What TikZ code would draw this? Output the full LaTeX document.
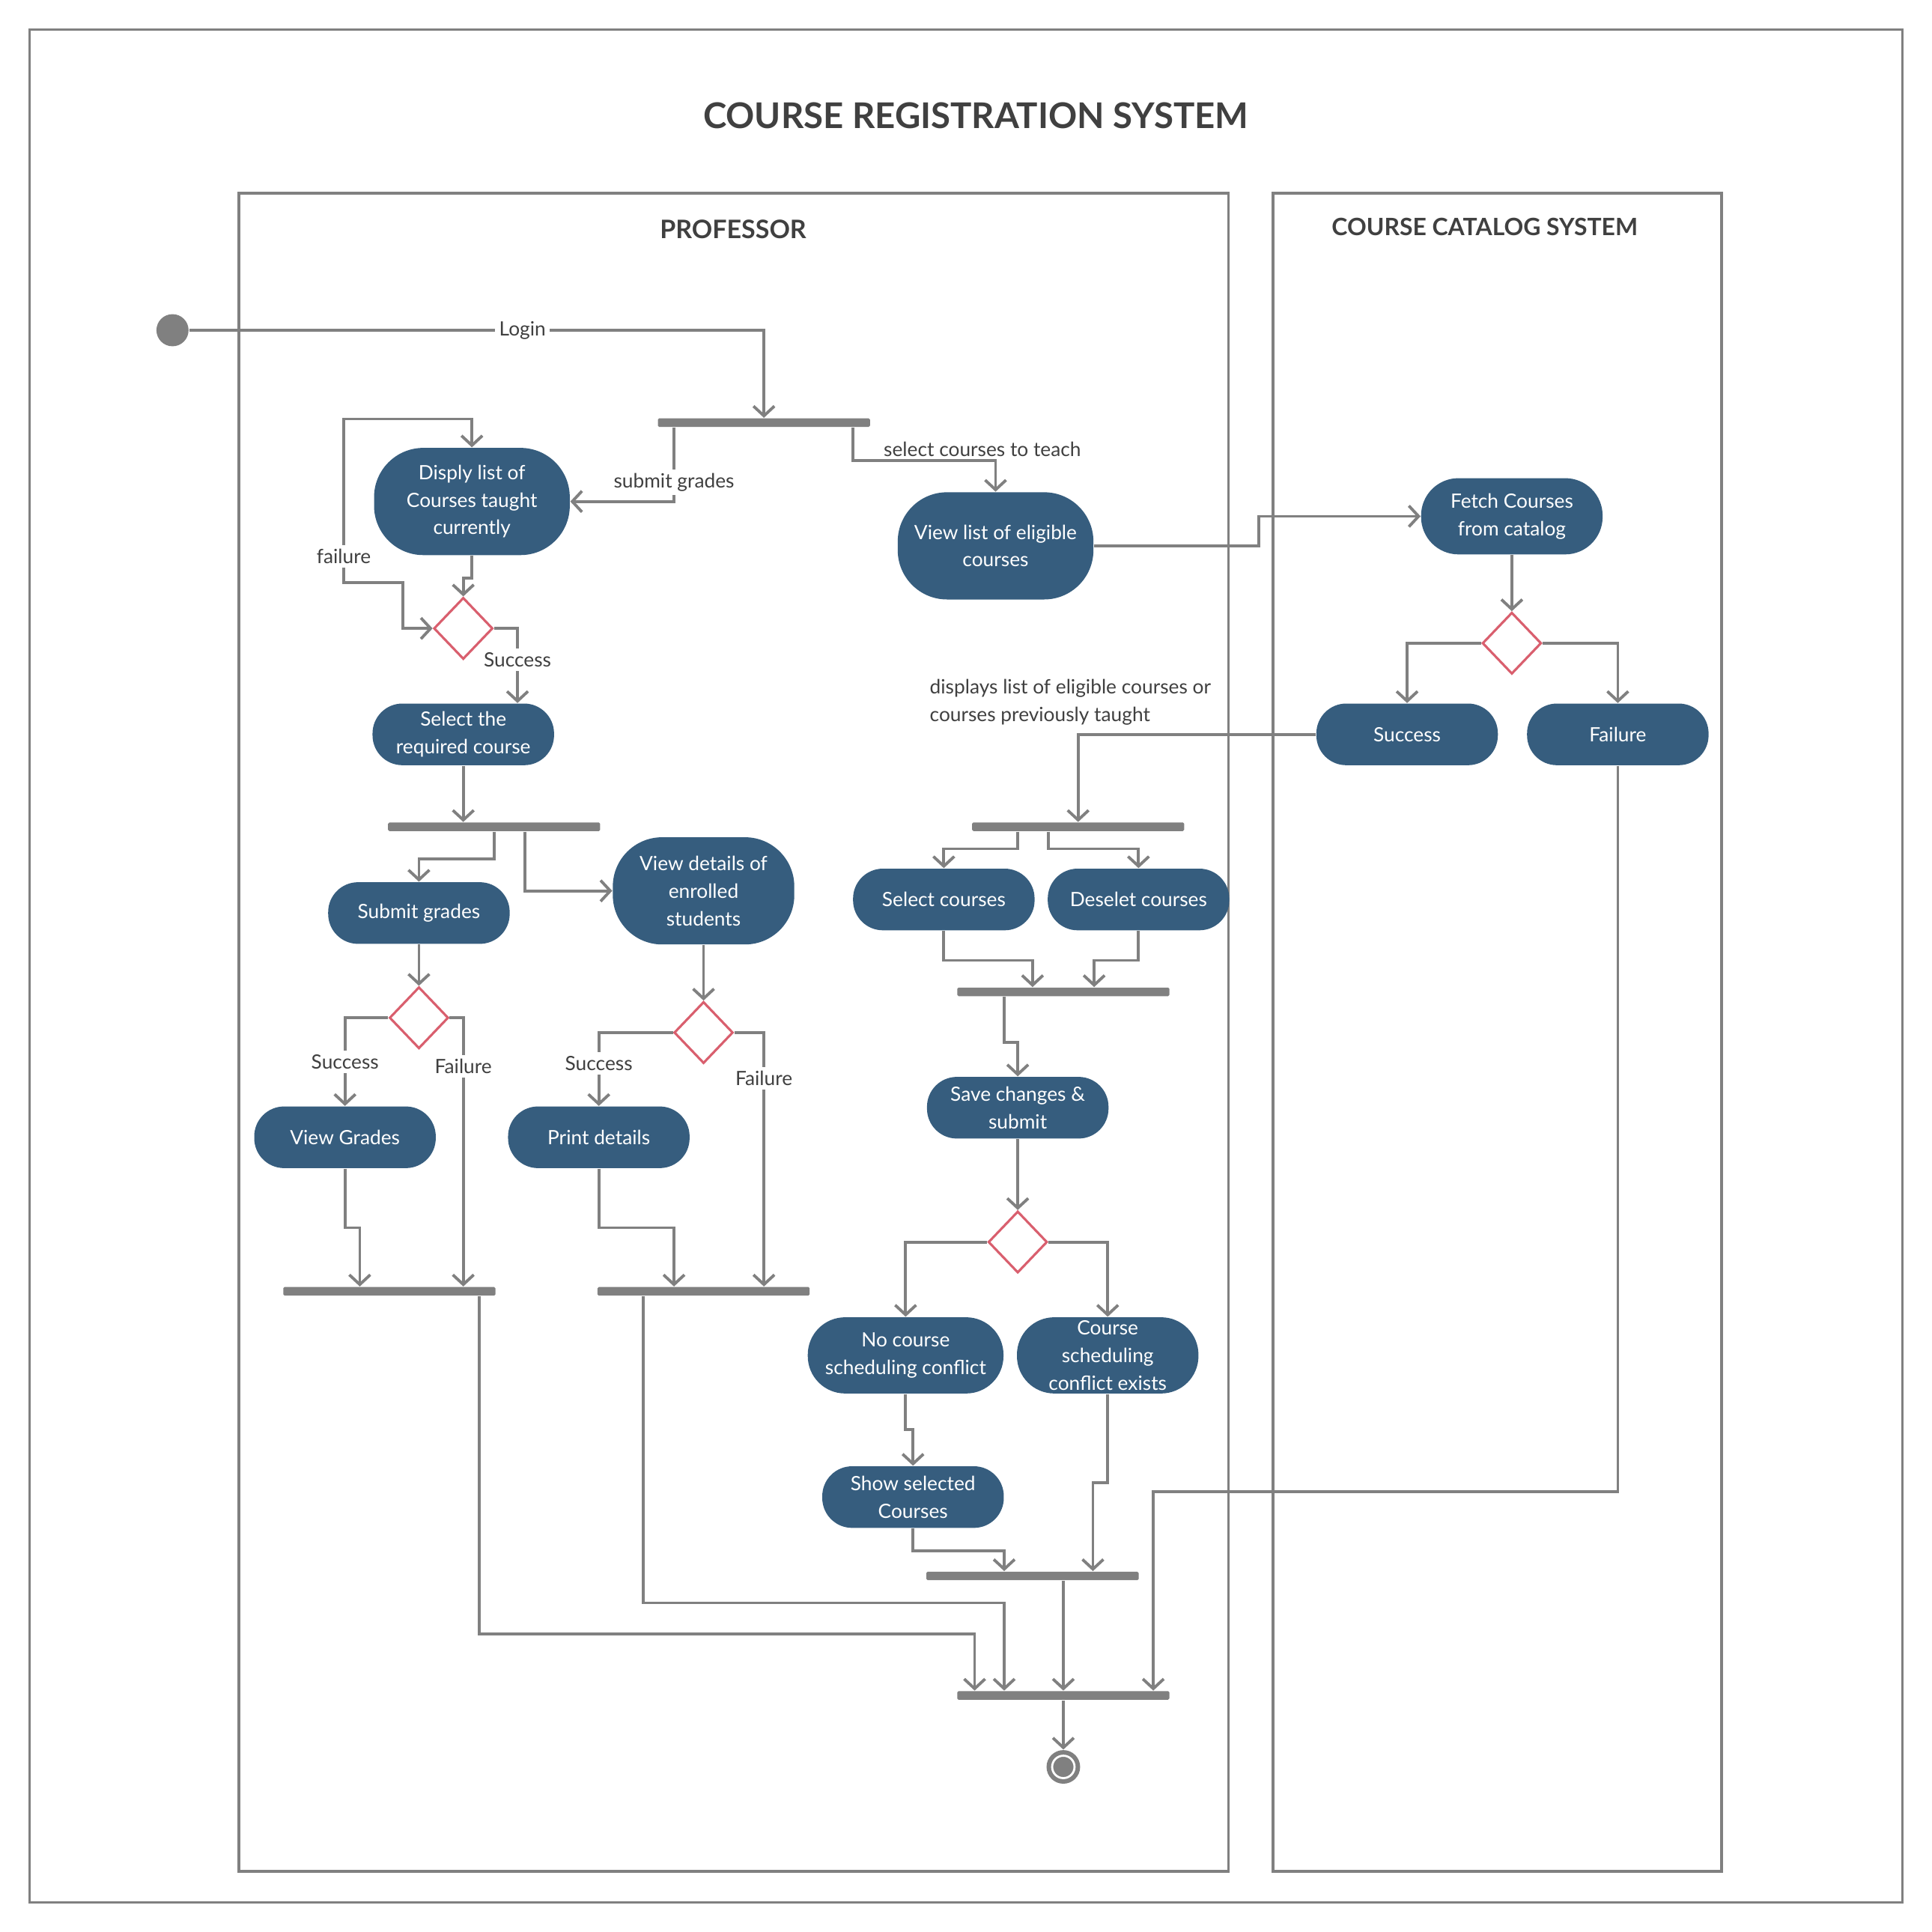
\documentclass[tikz,border=0pt]{standalone}
\usepackage{fontspec}
\setmainfont{Lato}
\usetikzlibrary{shapes.geometric,arrows.meta}
\definecolor{actblue}{RGB}{54,93,126}
\definecolor{linegray}{RGB}{128,128,128}
\definecolor{decred}{RGB}{217,95,110}
\definecolor{txtgray}{RGB}{64,64,64}
\begin{document}
\begin{tikzpicture}[x=0.0165cm, y=-0.0165cm,
  >={Straight Barb[length=0.13cm,width=0.28cm]},
  act/.style={rectangle, rounded corners=0.4cm, fill=actblue, text=white, minimum width=2.43cm, minimum height=0.825cm, inner sep=0pt, align=center, font=\fontsize{7.5}{10.5}\selectfont},
  bar/.style={rectangle, fill=linegray, minimum width=2.84cm, minimum height=0.115cm, inner sep=0pt, rounded corners=0.5pt},
  dec/.style={diamond, draw=decred, fill=white, line width=0.9pt, minimum width=0.79cm, minimum height=0.825cm, inner sep=0pt},
  lbl/.style={fill=white, text=txtgray, inner sep=1.5pt, font=\fontsize{7.5}{10.5}\selectfont},
  line/.style={draw=linegray, line width=1.1pt}]
\useasboundingbox (0,0) rectangle (1568,1568);
\draw[line] (24,24) rectangle (1544,1544);
\draw[line] (194,157) rectangle (997,1519);
\draw[line] (1033,157) rectangle (1397,1519);
\node[text=txtgray, font=\fontsize{13.5}{16}\selectfont\bfseries] (title) at (792,94) {COURSE REGISTRATION SYSTEM};
\node[text=txtgray, font=\fontsize{9.7}{12}\selectfont\bfseries] (prof) at (595,186) {PROFESSOR};
\node[text=txtgray, font=\fontsize{9.1}{12}\selectfont\bfseries] (cat) at (1205,184) {COURSE CATALOG SYSTEM};

\node[circle, fill=linegray, minimum size=0.43cm, inner sep=0pt] (s) at (140,268) {};
\node[bar] (b1) at (620,343) {};
\node[act, minimum width=2.62cm, minimum height=1.435cm, rounded corners=0.66cm] (1) at (383,407) {Disply list of\\Courses taught\\currently};
\node[act, minimum width=2.62cm, minimum height=1.435cm, rounded corners=0.66cm] (2) at (808,443) {View list of eligible\\courses};
\node[dec] (d1) at (376,510) {};
\node[act] (3) at (376,596) {Select the\\required course};
\node[bar] (b2) at (401,671) {};
\node[act] (4) at (340,741) {Submit grades};
\node[act, minimum height=1.435cm, rounded corners=0.66cm] (5) at (571,723) {View details of\\enrolled\\students};
\node[dec] (d2) at (340,826) {};
\node[dec] (d3) at (571,838) {};
\node[act] (6) at (280,923) {View Grades};
\node[act] (7) at (486,923) {Print details};
\node[bar] (b3) at (316,1048) {};
\node[bar] (b4) at (571,1048) {};
\node[act, minimum height=1.02cm, rounded corners=0.5cm] (8) at (1227,419) {Fetch Courses\\from catalog};
\node[dec] (d4) at (1227,522) {};
\node[act] (9) at (1142,596) {Success};
\node[act] (10) at (1313,596) {Failure};
\node[lbl, anchor=west, align=left, fill=none] (t1) at (751,570) {displays list of eligible courses or\\courses previously taught};
\node[bar] (b5) at (875,671) {};
\node[act] (11) at (766,730) {Select courses};
\node[act] (12) at (924,730) {Deselet courses};
\node[bar] (b6) at (863,805) {};
\node[act] (13) at (826,899) {Save changes \&\\submit};
\node[dec] (d5) at (826,1008) {};
\node[act, minimum width=2.62cm, minimum height=1.02cm, rounded corners=0.5cm] (14) at (735,1100) {No course\\scheduling conflict};
\node[act, minimum height=1.02cm, rounded corners=0.5cm] (15) at (899,1100) {Course\\scheduling\\conflict exists};
\node[act] (16) at (741,1215) {Show selected\\Courses};
\node[bar] (b7) at (838,1279) {};
\node[bar] (b8) at (863,1376) {};
\node[circle, fill=linegray, minimum size=0.45cm, inner sep=0pt, path picture={\draw[white, line width=0.8pt] (path picture bounding box.center) circle[radius=0.15cm];}] (e) at (863,1434) {};

\draw[line,->] (s) -| (b1) node[pos=0.29, lbl] {Login};
\draw[line,->] (b1.south -| 547,0) |- (1) node[pos=0.37, lbl] {submit grades};
\draw[line,->] (b1.south -| 692,0) -- ++(0,27) -| (2) node[pos=0.09, lbl, fill=none, anchor=south west, yshift=-0.5pt] {select courses to teach};
\draw[line,<->] (d1.west) -| (327,473) -| (279,340) node[pos=0.58, lbl] {failure} -| (1.north);
\draw[line,->] (1.south) -- ++(0,18) -| (d1.north);
\draw[line,->] (d1.east) -| (3.north -| 420,0) node[pos=0.71, lbl] {Success};
\draw[line,->] (3.south) -- (b2.north -| 3.south);
\draw[line,->] (b2.south -| 401,0) -- ++(0,22) -| (4.north);
\draw[line,->] (b2.south -| 426,0) |- (5.west);
\draw[line,->] (4.south) -- (d2.north);
\draw[line,->] (d2.west) -| (6.north) node[pos=0.75, lbl] {Success};
\draw[line,->] (d2.east) -| (b3.north -| 376,0) node[pos=0.59, lbl] {Failure};
\draw[line,->] (6.south) -- ++(0,48) -| (b3.north -| 292,0);
\draw[line,->] (5.south) -- (d3.north);
\draw[line,->] (d3.west) -| (7.north) node[pos=0.71, lbl] {Success};
\draw[line,->] (d3.east) -| (b4.north -| 620,0) node[pos=0.59, lbl] {Failure};
\draw[line,->] (7.south) -- ++(0,48) -| (b4.north -| 547,0);
\draw[line,->] (2.east) -- ++(134,0) |- (8.west);
\draw[line,->] (8.south) -- (d4.north);
\draw[line,->] (d4.west) -| (9.north);
\draw[line,->] (d4.east) -| (10.north);
\draw[line,->] (9.west) -| (b5.north);
\draw[line,->] (b5.south -| 826,0) -- ++(0,14) -| (11.north);
\draw[line,->] (b5.south -| 851,0) -- ++(0,14) -| (12.north);
\draw[line,->] (11.south) -- ++(0,24) -| (b6.north -| 838,0);
\draw[line,->] (12.south) -- ++(0,24) -| (b6.north -| 888,0);
\draw[line,->] (b6.south -| 815,0) -- ++(0,37) -| (13.north);
\draw[line,->] (13.south) -- (d5.north);
\draw[line,->] (d5.west) -| (14.north);
\draw[line,->] (d5.east) -| (15.north);
\draw[line,->] (14.south) -- ++(0,29) -| (16.north);
\draw[line,->] (16.south) -- ++(0,18) -| (b7.north -| 815,0);
\draw[line,->] (15.south) -- ++(0,72) -| (b7.north -| 887,0);
\draw[line,->] (b7.south -| b8) -- (b8.north);
\draw[line,->] (b3.south -| 389,0) -- ++(0,274) -| (b8.north -| 791,0);
\draw[line,->] (b4.south -| 522,0) -- ++(0,249) -| (b8.north -| 815,0);
\draw[line,->] (10.south) -- ++(0,589) -| (b8.north -| 936,0);
\draw[line,->] (b8.south) -- (e.north);
\end{tikzpicture}
\end{document}
